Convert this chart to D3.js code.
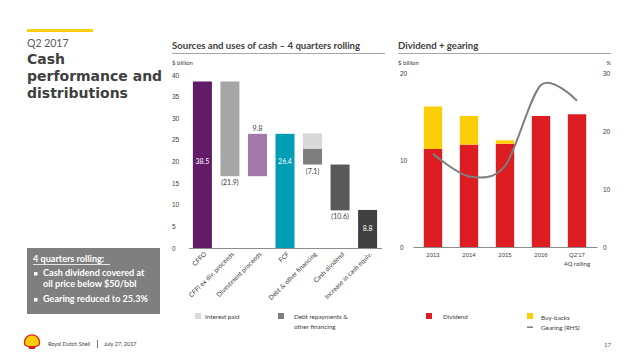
<!DOCTYPE html>
<html>
<head>
<meta charset="utf-8">
<script src="https://cdn.jsdelivr.net/npm/d3@7"></script>
<style>
  body { margin: 0; background: #fff; }
  svg { font-family: Lato, "Open Sans", sans-serif; }
  .axis text { font-size: 7px; fill: #404040; }
  .axis path, .axis line { stroke: #8c8c8c; }
</style>
</head>
<body>
<div class="viz"></div>
<script>
// waterfall data ($ billion)
var wfCats = [ "CFFO", "CFFI ex div. proceeds", "Divestment proceeds", "FCF", "Debt & other financing", "Cash dividend", "Increase in cash equiv." ];
var wfStart = [ 0, 38.5, 16.6, 0, 26.4, 19.3, 0 ];
var wfEnd = [ 38.5, 16.6, 26.4, 26.4, 19.3, 8.7, 8.8 ];
var wfLabels = [ "38.5", "(21.9)", "9.8", "26.4", "(7.1)", "(10.6)", "8.8" ];
var wfColors = [ "#621b67", "#a6a6a6", "#a379a9", "#009eb4", "#7f7f7f", "#595959", "#404040" ];
var interestPaid = 3.5; // light part of the "Debt & other financing" bar
var wfTicks = [ 0, 5, 10, 15, 20, 25, 30, 35, 40 ];

// dividend + gearing data
var years = [ "2013", "2014", "2015", "2016", "Q2'17" ];
var dividend = [ 11.3, 11.8, 11.9, 15.1, 15.3 ];
var buybacks = [ 4.9, 3.3, 0.4, 0, 0 ];
var gearing = [ 16.1, 12.2, 14.0, 28.0, 25.3 ];
var divTicks = [ 0, 10, 20 ];
var gearTicks = [ 0, 10, 20, 30 ];

var W = 638, H = 359;
var svg = d3.select( ".viz" ).append( "svg" ).attr( "width", W ).attr( "height", H );

// ---- left column text
svg.append( "rect" ).attr( "x", 27 ).attr( "y", 29 ).attr( "width", 66 ).attr( "height", 3 ).attr( "fill", "#fbce07" );
svg.append( "text" ).attr( "x", 27 ).attr( "y", 47 ).text( "Q2 2017" )
    .style( "font-size", "10.5px" ).style( "fill", "#595959" );
[ "Cash", "performance and", "distributions" ].forEach( function( t, i ) {
    svg.append( "text" ).attr( "x", 27 ).attr( "y", 64 + i * 17 ).text( t )
        .style( "font-family", "'DejaVu Sans', sans-serif" )
        .style( "font-size", "14px" ).style( "font-weight", "bold" ).style( "fill", "#404040" );
} );

svg.append( "rect" ).attr( "x", 27 ).attr( "y", 248 ).attr( "width", 133 ).attr( "height", 66 ).attr( "fill", "#7f7f7f" );
var box = svg.append( "g" ).style( "fill", "#fff" ).style( "font-weight", "bold" ).style( "font-size", "9.1px" );
box.append( "text" ).attr( "x", 33 ).attr( "y", 262 ).text( "4 quarters rolling:" );
box.append( "rect" ).attr( "x", 33 ).attr( "y", 264 ).attr( "width", 77 ).attr( "height", 0.8 ).attr( "fill", "#fff" );
box.append( "rect" ).attr( "x", 34 ).attr( "y", 272 ).attr( "width", 3.5 ).attr( "height", 3.5 );
box.append( "text" ).attr( "x", 43 ).attr( "y", 276 ).text( "Cash dividend covered at" );
box.append( "text" ).attr( "x", 43 ).attr( "y", 287 ).text( "oil price below $50/bbl" );
box.append( "rect" ).attr( "x", 34 ).attr( "y", 298 ).attr( "width", 3.5 ).attr( "height", 3.5 );
box.append( "text" ).attr( "x", 43 ).attr( "y", 302 ).text( "Gearing reduced to 25.3%" );

// footer
var logo = svg.append( "g" ).attr( "transform", "translate(32,342)" );
logo.append( "path" ).attr( "d", "M-7,3 A7.5,7.5 0 1 1 7,3 L3,5 L-3,5 Z" ).attr( "fill", "#fbce07" ).attr( "stroke", "#dd1d21" ).attr( "stroke-width", 1.2 );
logo.append( "rect" ).attr( "x", -3 ).attr( "y", 4 ).attr( "width", 6 ).attr( "height", 3 ).attr( "fill", "#dd1d21" );
svg.append( "text" ).attr( "x", 48 ).attr( "y", 346 ).text( "Royal Dutch Shell" ).style( "font-size", "5.5px" ).style( "fill", "#404040" );
svg.append( "rect" ).attr( "x", 97 ).attr( "y", 340 ).attr( "width", 0.8 ).attr( "height", 8 ).attr( "fill", "#595959" );
svg.append( "text" ).attr( "x", 104 ).attr( "y", 346 ).text( "July 27, 2017" ).style( "font-size", "5.5px" ).style( "fill", "#404040" );
svg.append( "text" ).attr( "x", 611 ).attr( "y", 347 ).attr( "text-anchor", "end" ).text( "17" ).style( "font-size", "6px" ).style( "fill", "#595959" );

// ---- chart titles
function chartTitle( x, x2, t ) {
    svg.append( "text" ).attr( "x", x ).attr( "y", 49 ).text( t )
        .style( "font-size", "9.6px" ).style( "font-weight", "bold" ).style( "fill", "#404040" );
    svg.append( "line" ).attr( "x1", x ).attr( "x2", x2 ).attr( "y1", 53.5 ).attr( "y2", 53.5 ).attr( "stroke", "#7f7f7f" ).attr( "stroke-width", 0.7 );
}
chartTitle( 172, 385, "Sources and uses of cash \u2013 4 quarters rolling" );
chartTitle( 398, 611, "Dividend + gearing" );

// ---- waterfall
var x1 = d3.scaleBand().domain( wfCats ).range( [ 188.5, 381.5 ] ).paddingInner( 0.31 ).paddingOuter( 0.16 );
var y1 = d3.scaleLinear().domain( [ 0, 40 ] ).range( [ 248, 75 ] );

svg.append( "text" ).attr( "x", 172 ).attr( "y", 65 ).text( "$ billion" ).style( "font-size", "6px" ).style( "fill", "#404040" );

var yAx1 = svg.append( "g" ).attr( "class", "axis" ).attr( "transform", "translate(183,0)" )
    .call( d3.axisLeft( y1 ).tickValues( wfTicks ).tickSize( 0 ).tickPadding( 0 ) );
yAx1.select( ".domain" ).remove();
yAx1.selectAll( "text" ).attr( "text-anchor", "start" ).attr( "x", -11 ).style( "font-size", "6.5px" );

var bars1 = svg.append( "g" );
wfCats.forEach( function( c, i ) {
    var lo = Math.min( wfStart[ i ], wfEnd[ i ] ), hi = Math.max( wfStart[ i ], wfEnd[ i ] );
    bars1.append( "rect" ).attr( "x", x1( c ) ).attr( "width", x1.bandwidth() )
        .attr( "y", y1( hi ) ).attr( "height", y1( lo ) - y1( hi ) ).attr( "fill", wfColors[ i ] );
    if ( i === 4 ) {
        bars1.append( "rect" ).attr( "x", x1( c ) ).attr( "width", x1.bandwidth() )
            .attr( "y", y1( hi ) ).attr( "height", y1( hi - interestPaid ) - y1( hi ) ).attr( "fill", "#d9d9d9" );
    }
} );

svg.append( "g" ).attr( "class", "axis" ).attr( "transform", "translate(0,248)" )
    .call( d3.axisBottom( x1 ).tickSize( 0 ).tickFormat( "" ) );

// value labels
var lab = svg.append( "g" ).style( "font-size", "7px" );
wfCats.forEach( function( c, i ) {
    var cx = x1( c ) + x1.bandwidth() / 2;
    var yy, col = "#404040";
    if ( i === 0 || i === 3 ) { yy = y1( 19.5 ); col = "#fff"; }
    else if ( i === 6 ) { yy = y1( wfEnd[ i ] / 2 ) + 2.5; col = "#fff"; }
    else if ( i === 2 ) { yy = y1( wfEnd[ i ] ) - 3; }
    else { yy = y1( wfEnd[ i ] ) + 9; }
    lab.append( "text" ).attr( "x", cx ).attr( "y", yy ).attr( "text-anchor", "middle" ).style( "fill", col ).text( wfLabels[ i ] );
} );

// rotated category labels
wfCats.forEach( function( c ) {
    var cx = x1( c ) + x1.bandwidth() / 2 + 3;
    svg.append( "text" ).attr( "transform", "translate(" + cx + ",253) rotate(-45)" )
        .attr( "text-anchor", "end" ).attr( "dy", "0.35em" ).text( c )
        .style( "font-size", "6.5px" ).style( "fill", "#404040" );
} );

// legend left
svg.append( "rect" ).attr( "x", 195 ).attr( "y", 313 ).attr( "width", 6 ).attr( "height", 6 ).attr( "fill", "#d9d9d9" );
svg.append( "text" ).attr( "x", 205 ).attr( "y", 319 ).text( "Interest paid" ).style( "font-size", "6.3px" ).style( "fill", "#404040" );
svg.append( "rect" ).attr( "x", 278 ).attr( "y", 313 ).attr( "width", 6 ).attr( "height", 6 ).attr( "fill", "#7f7f7f" );
svg.append( "text" ).attr( "x", 294 ).attr( "y", 319 ).text( "Debt repayments &" ).style( "font-size", "6.3px" ).style( "fill", "#404040" );
svg.append( "text" ).attr( "x", 294 ).attr( "y", 329 ).text( "other financing" ).style( "font-size", "6.3px" ).style( "fill", "#404040" );

// ---- dividend + gearing
var x2 = d3.scaleBand().domain( years ).range( [ 413, 597 ] ).paddingInner( 0.49 ).paddingOuter( 0.3 );
var y2 = d3.scaleLinear().domain( [ 0, 20 ] ).range( [ 247, 73.5 ] );
var y2r = d3.scaleLinear().domain( [ 0, 30 ] ).range( [ 247, 73.5 ] );

svg.append( "text" ).attr( "x", 398 ).attr( "y", 65 ).text( "$ billion" ).style( "font-size", "6px" ).style( "fill", "#404040" );
svg.append( "text" ).attr( "x", 611 ).attr( "y", 65 ).attr( "text-anchor", "end" ).text( "%" ).style( "font-size", "6px" ).style( "fill", "#404040" );

var yAx2 = svg.append( "g" ).attr( "class", "axis" ).attr( "transform", "translate(403,0)" )
    .call( d3.axisLeft( y2 ).tickValues( divTicks ).tickSize( 0 ).tickPadding( 0 ) );
yAx2.select( ".domain" ).remove();
yAx2.selectAll( "text" ).attr( "text-anchor", "start" ).attr( "x", -3 ).style( "font-size", "6.5px" );

var yAx2r = svg.append( "g" ).attr( "class", "axis" ).attr( "transform", "translate(603,0)" )
    .call( d3.axisRight( y2r ).tickValues( gearTicks ).tickSize( 0 ).tickPadding( 0 ) );
yAx2r.select( ".domain" ).remove();
yAx2r.selectAll( "text" ).style( "font-size", "6.5px" );

svg.append( "g" ).selectAll( "rect.div" ).data( years ).enter().append( "rect" )
    .attr( "x", function( d ) { return x2( d ); } ).attr( "width", x2.bandwidth() )
    .attr( "y", function( d, i ) { return y2( dividend[ i ] ); } )
    .attr( "height", function( d, i ) { return y2( 0 ) - y2( dividend[ i ] ); } )
    .attr( "fill", "#dd1d21" );
svg.append( "g" ).selectAll( "rect.bb" ).data( years ).enter().append( "rect" )
    .attr( "x", function( d ) { return x2( d ); } ).attr( "width", x2.bandwidth() )
    .attr( "y", function( d, i ) { return y2( dividend[ i ] + buybacks[ i ] ); } )
    .attr( "height", function( d, i ) { return y2( dividend[ i ] ) - y2( dividend[ i ] + buybacks[ i ] ); } )
    .attr( "fill", "#fbce07" );

var xAx2 = svg.append( "g" ).attr( "class", "axis" ).attr( "transform", "translate(0,247)" )
    .call( d3.axisBottom( x2 ).tickSize( 0 ).tickPadding( 6 ) );
xAx2.selectAll( "text" ).style( "font-size", "6px" );
svg.append( "text" ).attr( "x", x2( "Q2'17" ) + x2.bandwidth() / 2 ).attr( "y", 266 ).attr( "text-anchor", "middle" )
    .text( "4Q rolling" ).style( "font-size", "6px" ).style( "fill", "#404040" );

var gearLine = d3.line()
    .x( function( d, i ) { return x2( years[ i ] ) + x2.bandwidth() / 2; } )
    .y( function( d ) { return y2r( d ); } )
    .curve( d3.curveCardinal.tension( 0.1 ) );
svg.append( "path" ).datum( gearing ).attr( "d", gearLine )
    .attr( "fill", "none" ).attr( "stroke", "#7f7f7f" ).attr( "stroke-width", 2 );

// legend right
svg.append( "rect" ).attr( "x", 426 ).attr( "y", 313 ).attr( "width", 6 ).attr( "height", 6 ).attr( "fill", "#dd1d21" );
svg.append( "text" ).attr( "x", 443 ).attr( "y", 319 ).text( "Dividend" ).style( "font-size", "6.3px" ).style( "fill", "#404040" );
svg.append( "rect" ).attr( "x", 527 ).attr( "y", 313 ).attr( "width", 6 ).attr( "height", 6 ).attr( "fill", "#fbce07" );
svg.append( "text" ).attr( "x", 541 ).attr( "y", 320 ).text( "Buy-backs" ).style( "font-size", "6.3px" ).style( "fill", "#404040" );
svg.append( "rect" ).attr( "x", 527 ).attr( "y", 326.5 ).attr( "width", 6 ).attr( "height", 1.5 ).attr( "fill", "#7f7f7f" );
svg.append( "text" ).attr( "x", 541 ).attr( "y", 330 ).text( "Gearing (RHS)" ).style( "font-size", "6.3px" ).style( "fill", "#404040" );
</script>
</body>
</html>
